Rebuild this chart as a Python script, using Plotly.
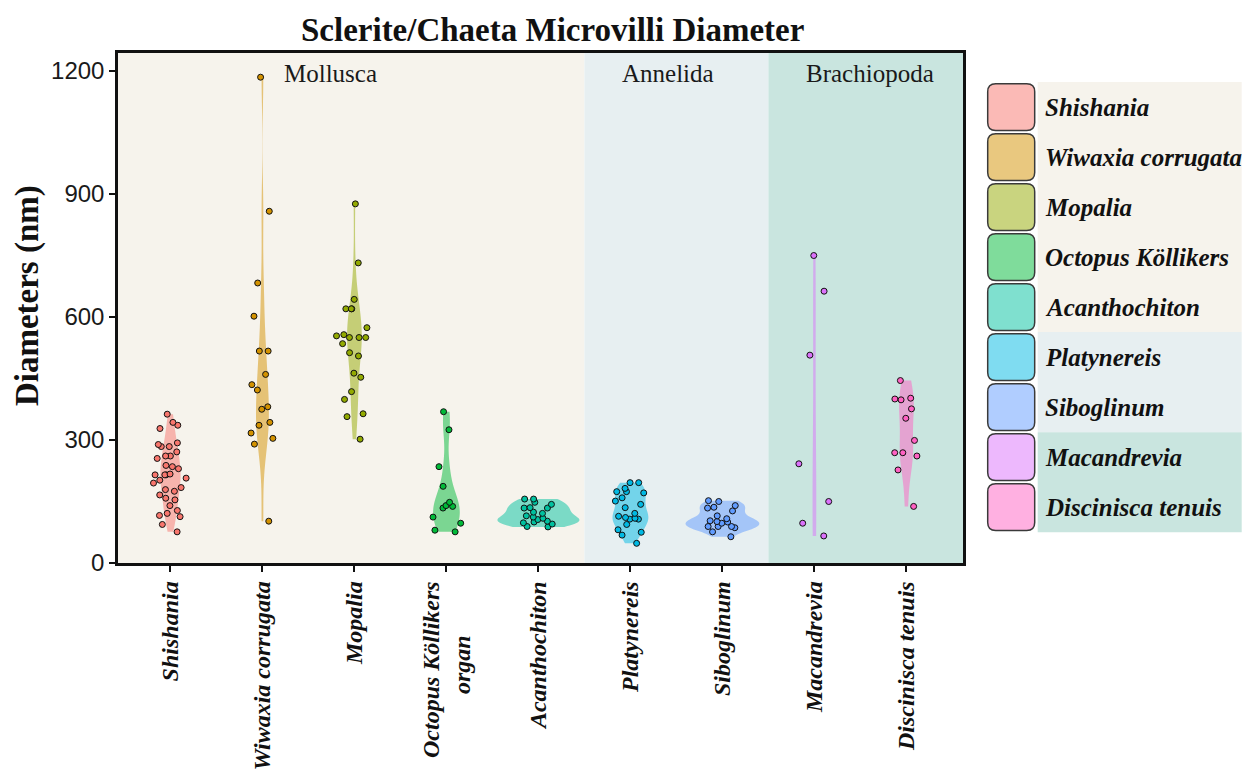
import numpy as np
import plotly.graph_objects as go

# ---------------- data ----------------
categories = ["Shishania", "Wiwaxia corrugata", "Mopalia", "Octopus Köllikers organ",
              "Acanthochiton", "Platynereis", "Siboglinum", "Macandrevia", "Discinisca tenuis"]
tick_labels = ["Shishania", "Wiwaxia corrugata", "Mopalia",
               "Octopus Köllikers<br>organ" + "\u00a0" * 9,
               "Acanthochiton", "Platynereis", "Siboglinum", "Macandrevia", "Discinisca tenuis"]
legend_labels = ["Shishania", "Wiwaxia corrugata", "Mopalia", "Octopus Köllikers",
                 "Acanthochiton", "Platynereis", "Siboglinum", "Macandrevia", "Discinisca tenuis"]
phyla = ["Mollusca", "Annelida", "Brachiopoda"]
phylum_counts = [5, 2, 2]

shishania = [363, 343, 336, 328, 293, 289, 284, 284, 271, 261, 261, 255, 238, 235, 230, 217,
             215, 215, 215, 207, 202, 195, 184, 179, 175, 166, 158, 154, 140, 128, 121, 116,
             113, 94, 76]
wiwaxia = [1185, 858, 683, 602, 517, 517, 460, 435, 422, 381, 375, 343, 336, 317, 304, 290, 102]
mopalia = [876, 732, 643, 620, 620, 620, 574, 557, 554, 550, 550, 550, 535, 513, 505, 463, 453,
           418, 399, 364, 357, 302]
octopus = [369, 325, 235, 187, 148, 140, 138, 134, 112, 97, 80, 76]
acanthochiton = [156, 156, 148, 143, 135, 134, 134, 124, 121, 115, 112, 109, 106, 102, 100, 98,
                 95, 89, 88]
platynereis = [196, 196, 182, 174, 174, 171, 159, 151, 143, 135, 121, 114, 111, 109, 107, 107,
               94, 81, 75, 68, 48]
siboglinum = [152, 150, 140, 136, 134, 127, 115, 108, 103, 101, 100, 97, 89, 89, 89, 86, 76, 64]
macandrevia = [750, 663, 507, 242, 150, 97, 66]
discinisca = [445, 402, 400, 398, 376, 353, 299, 269, 269, 261, 227, 138]

series = [shishania, wiwaxia, mopalia, octopus, acanthochiton, platynereis, siboglinum,
          macandrevia, discinisca]

y_ticks = [0, 300, 600, 900, 1200]

# ---------------- style ----------------
hues = ["#F8766D", "#D39200", "#93AA00", "#00BA38", "#00C19F", "#00B9E3", "#619CFF",
        "#DB72FB", "#FF61C3"]
violin_widths = [0.22, 0.14, 0.16, 0.29, 0.89, 0.39, 0.80, 0.04, 0.16]   # max violin width (x units)
phylum_bg = ["#F6F3EC", "#E7EFF1", "#C9E5DF"]
SERIF = "Liberation Serif"
SANS = "Liberation Sans"

OFF = 8                      # default page body margin
W, H = 1257 - OFF, 782 - OFF
PL, PT = 118.3, 52.7         # plot area left/top on screen
PW, PH = 845, 514
L, T = PL - OFF, PT - OFF
R, B = W - L - PW, H - T - PH
XR = [-0.57, 8.615]
YR = [0, 1244]


def rgba(hexc, a):
    h = hexc.lstrip("#")
    return "rgba(%d,%d,%d,%.2f)" % (int(h[0:2], 16), int(h[2:4], 16), int(h[4:6], 16), a)


def px_x(p):
    return (p - PL) / PW


def px_y(p):
    return (PT + PH - p) / PH


def bandwidth(vals):
    v = np.asarray(vals, float)
    n = len(v)
    sd = v.std(ddof=1)
    q75, q25 = np.percentile(v, [75, 25])
    lo = min(sd, (q75 - q25) / 1.34) if q75 > q25 else sd
    return 0.9 * lo * n ** -0.2


fig = go.Figure()

for cat, vals, col, vw in zip(categories, series, hues, violin_widths):
    fig.add_trace(go.Violin(
        x=[cat] * len(vals), y=vals, points=False, spanmode="hard", bandwidth=bandwidth(vals),
        width=vw, scalemode="width", fillcolor=rgba(col, 0.5),
        line=dict(width=0, color=rgba(col, 0.5)), box_visible=False, meanline_visible=False,
        hoverinfo="skip", showlegend=False))

for cat, vals, col in zip(categories, series, hues):
    fig.add_trace(go.Box(
        x=[cat] * len(vals), y=vals, boxpoints="all", jitter=1, pointpos=0, width=0.4,
        fillcolor="rgba(0,0,0,0)", line=dict(width=0, color="rgba(0,0,0,0)"),
        whiskerwidth=0,
        marker=dict(color=col, size=6, line=dict(color="#111111", width=1)),
        hoverinfo="skip", showlegend=False))

shapes = []
# phylum background bands in the plot
bounds = [XR[0]]
acc = -0.5
for c in phylum_counts:
    acc += c
    bounds.append(acc)
bounds[-1] = XR[1]
for i in range(3):
    shapes.append(dict(type="rect", xref="x", yref="paper", x0=bounds[i], x1=bounds[i + 1],
                       y0=0, y1=1, fillcolor=phylum_bg[i], line=dict(width=0), layer="below"))

# manual legend
row_h = 50.4
leg_top = 82
sw_x0, sw_x1 = 988, 1035
band_x0, band_x1 = 1038, 1242
row = 0
for i, c in enumerate(phylum_counts):
    y0 = leg_top + row * row_h
    y1 = leg_top + (row + c) * row_h
    shapes.append(dict(type="rect", xref="paper", yref="paper", x0=px_x(band_x0), x1=px_x(band_x1),
                       y0=px_y(y1), y1=px_y(y0), fillcolor=phylum_bg[i], line=dict(width=0),
                       layer="below"))
    row += c

annotations = []
r = 8
for i, (lab, col) in enumerate(zip(legend_labels, hues)):
    cy = leg_top + (i + 0.5) * row_h
    y0p, y1p = cy - 23.5, cy + 23.5
    x0p, x1p = sw_x0, sw_x1
    pts = [
        ("M", x0p + r, y0p), ("L", x1p - r, y0p), ("Q", x1p, y0p, x1p, y0p + r),
        ("L", x1p, y1p - r), ("Q", x1p, y1p, x1p - r, y1p), ("L", x0p + r, y1p),
        ("Q", x0p, y1p, x0p, y1p - r), ("L", x0p, y0p + r), ("Q", x0p, y0p, x0p + r, y0p)]
    path = ""
    for p in pts:
        if p[0] == "Q":
            path += "Q%.5f,%.5f %.5f,%.5f " % (px_x(p[1]), px_y(p[2]), px_x(p[3]), px_y(p[4]))
        else:
            path += "%s%.5f,%.5f " % (p[0], px_x(p[1]), px_y(p[2]))
    path += "Z"
    shapes.append(dict(type="path", xref="paper", yref="paper", path=path,
                       fillcolor=rgba(col, 0.5), line=dict(color="#3a3a3a", width=1.5)))
    annotations.append(dict(xref="paper", yref="paper", x=px_x(1043), y=px_y(cy), text=lab,
                            showarrow=False, xanchor="left", yanchor="middle",
                            font=dict(family=SERIF, size=25, color="#111111",
                                      style="italic", weight="bold")))

# phylum labels
for name, cx in zip(phyla, [331, 668, 870]):
    annotations.append(dict(xref="paper", yref="paper", x=px_x(cx), y=px_y(73), text=name,
                            showarrow=False, xanchor="center", yanchor="middle",
                            font=dict(family=SERIF, size=25, color="#1a1a1a")))

# y-axis title
annotations.append(dict(xref="paper", yref="paper", x=px_x(28), y=px_y(297),
                        text="Diameters (nm)", textangle=-90, showarrow=False,
                        xanchor="center", yanchor="middle",
                        font=dict(family=SERIF, size=33, color="#111111", weight="bold")))

# chart title (kept inside the page)
annotations.append(dict(xref="paper", yref="paper", x=px_x(553), y=px_y(OFF + 1),
                        text="Sclerite/Chaeta Microvilli Diameter", showarrow=False,
                        xanchor="center", yanchor="top",
                        font=dict(family=SERIF, size=33, color="#111111", weight="bold")))

fig.update_layout(
    width=W, height=H, autosize=False,
    margin=dict(l=L, r=R, t=T, b=B, pad=0),
    paper_bgcolor="white", plot_bgcolor="white",
    shapes=shapes, annotations=annotations, showlegend=False,
    violinmode="overlay", boxmode="overlay",
)
fig.update_xaxes(
    type="category", categoryorder="array", categoryarray=categories, range=XR,
    tickvals=categories, ticktext=tick_labels, tickangle=-90,
    tickfont=dict(family=SERIF, size=24, color="#111111", style="italic", weight="bold"),
    ticks="outside", ticklen=6, tickwidth=2, tickcolor="#111111",
    showline=True, linewidth=2.5, linecolor="#111111", mirror=True,
    showgrid=False, zeroline=False, fixedrange=True)
fig.update_yaxes(
    range=YR, tickvals=y_ticks, ticktext=[str(v) for v in y_ticks],
    tickfont=dict(family=SANS, size=24, color="#1a1a1a"),
    ticks="outside", ticklen=6, tickwidth=2, tickcolor="#111111",
    showline=True, linewidth=2.5, linecolor="#111111", mirror=True,
    showgrid=False, zeroline=False, fixedrange=True)

fig.write_html("out.html")
